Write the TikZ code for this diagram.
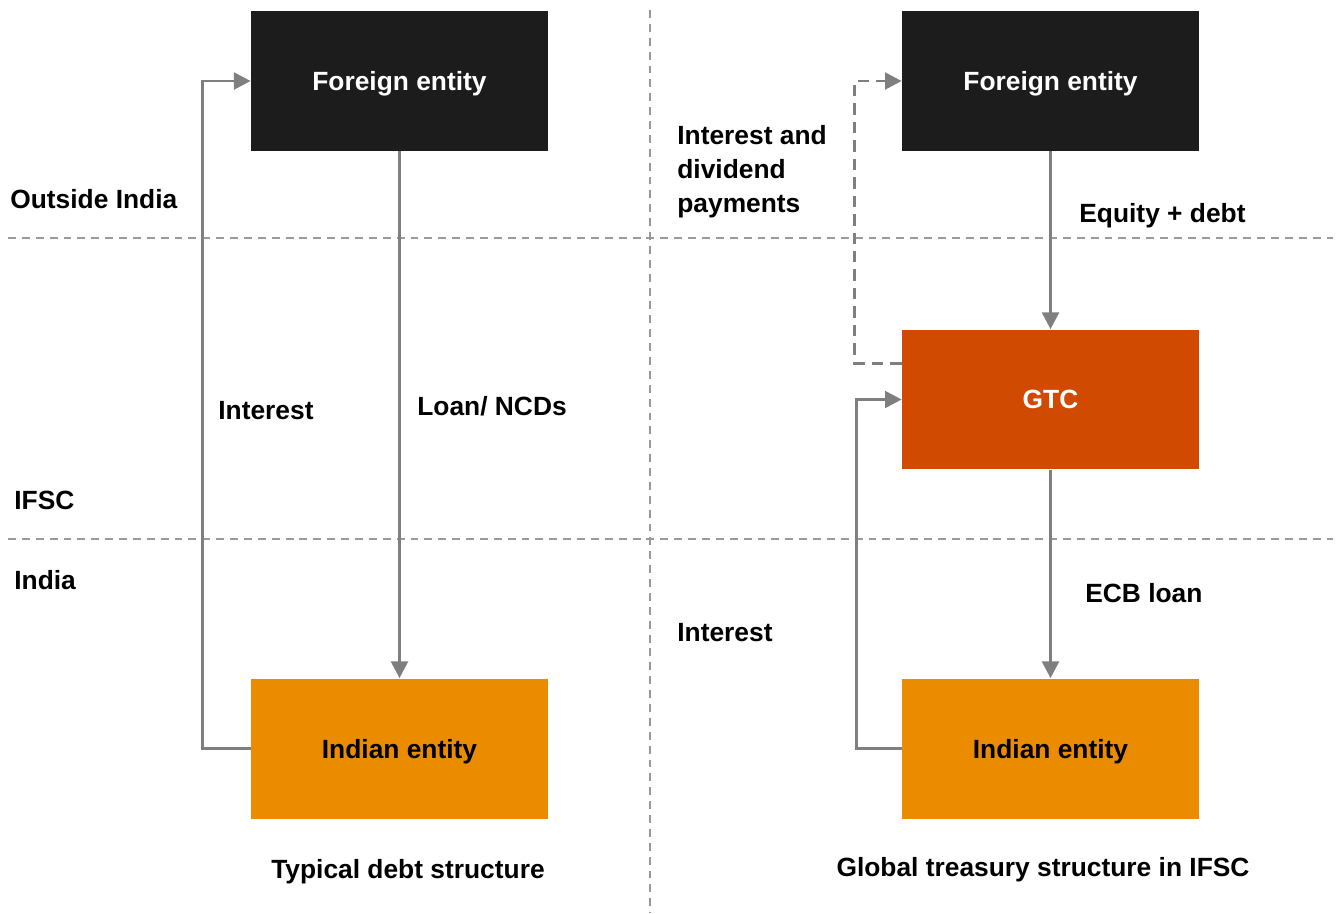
\documentclass[tikz,border=0pt]{standalone}
\usepackage{fontspec}
\setmainfont{Liberation Sans}
\usetikzlibrary{arrows.meta,positioning,calc}
\definecolor{boxblack}{HTML}{1C1C1C}
\definecolor{gtcorange}{HTML}{D04A02}
\definecolor{indorange}{HTML}{EB8C00}
\definecolor{linegray}{HTML}{7F7F7F}
\definecolor{sepgray}{HTML}{9A9A9A}
\begin{document}
\begin{tikzpicture}[x=0.02cm, y=-0.02cm, font=\fontsize{15}{18}\selectfont\bfseries]
\tikzset{
    caps/.style={text height=10.8pt,text depth=0pt},
    entity/.style={caps,minimum width=5.94cm,minimum height=2.8cm,inner sep=0pt},
    label/.style={caps,anchor=west,inner sep=0pt,align=left},
    flow/.style={-{Triangle[length=9.5pt,width=9.5pt]},linegray,line width=1.7pt},
    sep/.style={sepgray,line width=1.2pt,dash pattern=on 4.5pt off 3.4pt}
}
\useasboundingbox (0,0) rectangle (1337,913);
% separators
\draw[sep] (650,10) -- (650,913);
\draw[sep] (8,238) -- (1333,238);
\draw[sep] (8,539) -- (1333,539);
% left structure
\node[entity,fill=boxblack,text=white] (for1) at (399.5,81) {Foreign entity};
\node[entity,fill=indorange] (ind1) at (399.5,748.5) {Indian entity};
% right structure
\node[entity,fill=boxblack,text=white] (for2) at (1050.5,81) {Foreign entity};
\node[entity,fill=gtcorange,text=white] (gtc) at (1050.5,399.5) {GTC};
\node[entity,fill=indorange] (ind2) at (1050.5,748.5) {Indian entity};
% region labels
\node[label] (outside) at (10,199) {Outside India};
\node[label] (ifsc) at (14,500) {IFSC};
\node[label] (india) at (14,580) {India};
% flow labels
\node[label] (int1) at (218,410) {Interest};
\node[label] (loan) at (417,406) {Loan/ NCDs};
\node[anchor=west,inner sep=0pt,align=left,text depth=0pt] (intdiv) at (677,169) {Interest and\\[1.35pt]dividend\\[1.35pt]payments};
\node[label] (eqdebt) at (1079,213) {Equity + debt};
\node[label] (ecb) at (1085,593) {ECB loan};
\node[label] (int2) at (677,632) {Interest};
% titles
\node[caps] (title1) at (408,869) {Typical debt structure};
\node[caps] (title2) at (1043,867) {Global treasury structure in IFSC};
% edges
\draw[flow] (for1) -- (ind1);
\draw[flow] (ind1.west) -- ++(-48,0) |- (for1.west);
\draw[flow] (for2) -- (gtc);
\draw[flow] (gtc) -- (ind2);
\draw[flow] (ind2.west) -- ++(-45,0) |- (gtc.west);
\draw[flow,dash pattern=on 6.5pt off 4pt] ([yshift=0.73cm]gtc.west) -- ++(-47,0) |- (for2.west);
\end{tikzpicture}
\end{document}
